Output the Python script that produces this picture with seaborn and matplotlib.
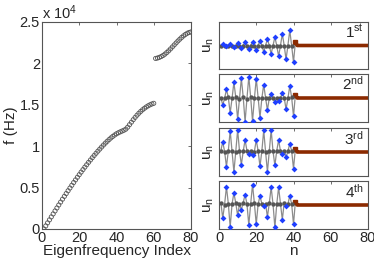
import numpy as np
import pandas as pd
import matplotlib
matplotlib.use("Agg")
import matplotlib.pyplot as plt
import seaborn as sns
from matplotlib.ticker import FuncFormatter, MultipleLocator

sns.set_style("white")
plt.rcParams['font.family'] = ['Liberation Sans', 'DejaVu Sans']
plt.rcParams['mathtext.fontset'] = 'custom'
plt.rcParams['mathtext.rm'] = 'Liberation Sans'
plt.rcParams['mathtext.it'] = 'Liberation Sans'

# =====================
# Data
# =====================
# eigenfrequencies (Hz), index 1..80
freq_hz = [
    0, 370, 740, 1100, 1460, 1820, 2180, 2540, 2900, 3250,
    3600, 3940, 4280, 4620, 4950, 5280, 5610, 5930, 6250, 6560,
    6870, 7170, 7470, 7760, 8050, 8330, 8610, 8880, 9140, 9400,
    9650, 9900, 10140, 10370, 10590, 10800, 11000, 11180, 11350, 11500,
    11620, 11730, 11830, 11930, 12060, 12300, 12600, 12900, 13200, 13480,
    13740, 13980, 14200, 14400, 14580, 14740, 14880, 15000, 15100, 15180,
    20600, 20650, 20730, 20830, 20960, 21120, 21310, 21520, 21750, 21990,
    22230, 22470, 22710, 22930, 23140, 23330, 23500, 23640, 23740, 23800,
]
freq_index = list(range(1, 81))

# mode shapes: even sites (blue), odd sites (grey), tail sites 41..80 (brown)
even_n = list(range(2, 41, 2))
odd_n = list(range(1, 40, 2))
tail_n = list(range(41, 81))

mode_labels = ['1', '2', '3', '4']
mode_suffix = ['st', 'nd', 'rd', 'th']

even_vals = [
    [0.06, -0.04, 0.07, -0.06, 0.09, -0.10, 0.13, -0.16, 0.16, -0.21,
     0.20, -0.27, 0.27, -0.36, 0.36, -0.46, 0.49, -0.59, 0.64, -0.71],
    [-0.29, 0.36, -0.63, 0.65, -0.88, 0.82, -0.99, 0.89, -0.96, 0.81,
     -0.82, 0.56, -0.51, 0.15, -0.17, -0.13, 0.22, -0.47, 0.50, -0.76],
    [0.43, -0.61, 0.89, -0.83, 0.92, -0.53, 0.50, -0.08, -0.11, 0.50,
     -0.60, 0.90, -0.83, 0.92, -0.56, 0.50, -0.10, -0.22, 0.35, -0.69],
    [-0.55, 0.76, -0.92, 0.50, -0.43, -0.20, 0.43, -0.83, 0.85, -0.80,
     0.38, -0.04, -0.50, 0.74, -0.93, 0.74, -0.61, -0.04, 0.38, -0.80],
]
odd_vals = [
    [0.0] * 20,
    [0.02, -0.02, 0.03, -0.02, 0.03, -0.03, 0.03, -0.03, 0.03, -0.02,
     0.02, -0.02, 0.01, 0.0, 0.0, 0.01, -0.01, 0.02, -0.02, 0.03],
    [0.05, 0.02, 0.04, 0.03, 0.02, 0.05, 0.03, 0.06, 0.04, 0.02,
     0.05, 0.03, 0.02, 0.04, 0.03, 0.05, 0.04, 0.06, 0.03, 0.05],
    [0.10, 0.02, 0.06, 0.04, 0.08, 0.03, 0.10, 0.05, 0.04, 0.07,
     0.03, 0.06, 0.05, 0.08, 0.04, 0.03, 0.06, 0.09, 0.04, 0.05],
]
tail_vals = [
    [0.13] + [0.0] * 39,
    [0.13] + [0.0] * 39,
    [0.13] + [0.0] * 39,
    [0.13] + [0.0] * 39,
]

# =====================
# Figure
# =====================
fig = plt.figure(figsize=(3.74, 2.67), dpi=100)
W, H = 374, 267
TICK_FS = 10.5
LABEL_FS = 11

def px_axes(x0, y0, x1, y1):
    return fig.add_axes([x0 / W, (H - y1) / H, (x1 - x0) / W, (y1 - y0) / H])

def matlab_box(ax):
    for s in ax.spines.values():
        s.set_color('#555555')
        s.set_linewidth(0.8)
    ax.tick_params(direction='in', length=2.5, width=0.6, color='#555555',
                   top=True, right=True, labelsize=TICK_FS, pad=1.5)

# left: eigenfrequencies
ax0 = px_axes(42, 22, 191, 229)
df_f = pd.DataFrame({'idx': freq_index, 'f': freq_hz})
sns.scatterplot(data=df_f, x='idx', y='f', ax=ax0, marker='o', s=9,
                facecolor='none', edgecolor='#555555', linewidth=0.6)
ax0.set_xlim(0, 80)
ax0.set_ylim(0, 25000)
ax0.xaxis.set_major_locator(MultipleLocator(20))
ax0.yaxis.set_major_locator(MultipleLocator(5000))
ax0.yaxis.set_major_formatter(FuncFormatter(lambda v, p: f"{v / 1e4:g}"))
matlab_box(ax0)
ax0.set_xlabel('Eigenfrequency Index', fontsize=LABEL_FS, labelpad=-1)
ax0.set_ylabel('f (Hz)', fontsize=LABEL_FS, labelpad=1)
ax0.text(0.0, 1.0, r'x 10$^{4}$', transform=ax0.transAxes, fontsize=TICK_FS,
         ha='left', va='bottom')

# right: four mode shapes
panel_rows = [(22, 69), (74, 122), (128, 176), (181, 229)]
for k, (y0, y1) in enumerate(panel_rows):
    ax = px_axes(219, y0, 368, y1)
    all_n = odd_n + even_n + [tail_n[0]]
    all_v = odd_vals[k] + even_vals[k] + [tail_vals[k][0]]
    df_line = pd.DataFrame({'n': all_n, 'u': all_v}).sort_values('n')
    sns.lineplot(data=df_line, x='n', y='u', ax=ax, color='#8c8c8c',
                 linewidth=0.9, sort=True)
    sns.lineplot(x=tail_n, y=tail_vals[k], ax=ax, color='#8b2a00',
                 linewidth=2.6)
    ax.plot(tail_n[0], tail_vals[k][0], 's', color='#8b2a00', ms=3.5)
    sns.scatterplot(x=odd_n, y=odd_vals[k], ax=ax, color='#555555', s=10,
                    linewidth=0, zorder=3)
    sns.scatterplot(x=even_n, y=even_vals[k], ax=ax, color='#1f3fff', s=9,
                    marker='D', linewidth=0, zorder=4)
    ax.set_xlim(0, 80)
    ax.set_ylim(-1, 1)
    ax.xaxis.set_major_locator(MultipleLocator(20))
    ax.set_yticks([])
    matlab_box(ax)
    ax.set_ylabel(r'u$_{\mathregular{n}}$', fontsize=LABEL_FS, labelpad=2)
    ax.text(0.97, 0.6, mode_labels[k] + r'$^{\mathregular{' + mode_suffix[k] + '}}$',
            transform=ax.transAxes, fontsize=LABEL_FS, ha='right', va='bottom')
    if k < 3:
        ax.set_xticklabels([])
        ax.set_xlabel('')
    else:
        ax.set_xlabel('n', fontsize=LABEL_FS, labelpad=-1)

fig.savefig('out.png', dpi=100)
